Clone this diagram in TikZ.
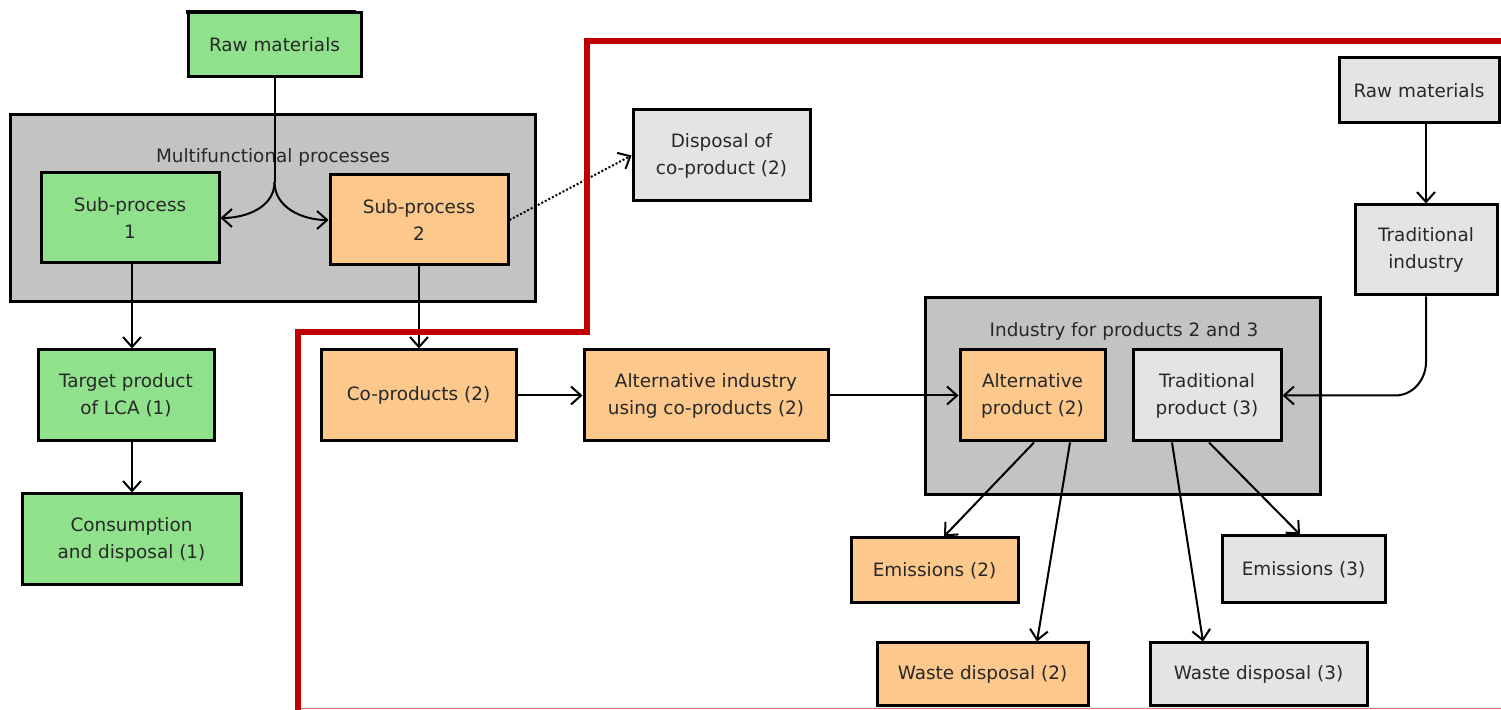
\documentclass[tikz,border=0pt]{standalone}
\usepackage{fontspec}
\setmainfont{DejaVu Sans}
\usetikzlibrary{arrows.meta,calc}
\definecolor{gfill}{RGB}{144,225,140}
\definecolor{ofill}{RGB}{252,200,140}
\definecolor{lfill}{RGB}{228,228,228}
\definecolor{grpfill}{RGB}{195,195,195}
\definecolor{redline}{RGB}{192,0,0}
\definecolor{txt}{RGB}{40,40,40}
\begin{document}
\begin{tikzpicture}[x=0.5pt,y=-0.5pt,
  box/.style={draw=black,line width=1.5pt,inner sep=0pt,align=center,
    font=\fontsize{9.2}{13.5}\selectfont,text=txt},
  grn/.style={box,fill=gfill},
  org/.style={box,fill=ofill},
  gry/.style={box,fill=lfill},
  grp/.style={draw=black,line width=1.5pt,fill=grpfill,inner sep=0pt},
  lbl/.style={font=\fontsize{9.2}{13.5}\selectfont,text=txt,inner sep=0pt},
  arr/.style={line width=1pt,-{Straight Barb[length=5pt,width=9pt,line width=1pt]}},
  ]
\useasboundingbox (0,0) rectangle (1501,710);
% groups
\node[grp,minimum width=262.5pt,minimum height=93.5pt] (multi) at (272.5,208.5) {};
\node[lbl] (multilbl) at (273,157) {Multifunctional processes};
\node[grp,minimum width=197.5pt,minimum height=98.5pt] (indgrp) at (1122.5,396.5) {};
\node[lbl] (indlbl) at (1124,331) {Industry for products 2 and 3};
% top bar
\fill[black] (186,10) rectangle (356,14);
% boxes left
\node[grn,minimum width=86.5pt,minimum height=32pt] (rawL) at (274.5,45) {Raw materials};
\node[grn,minimum width=89pt,minimum height=45pt] (sub1) at (130,218) {Sub-process\\1};
\node[org,minimum width=89pt,minimum height=45pt] (sub2) at (419,220) {Sub-process\\2};
\node[grn,minimum width=88pt,minimum height=45.5pt] (target) at (126,395.5) {Target product\\of LCA (1)};
\node[grn,minimum width=109.5pt,minimum height=45.5pt] (cons) at (131.5,539.5) {Consumption\\and disposal (1)};
% middle
\node[org,minimum width=97.5pt,minimum height=45.5pt] (coprod) at (418.5,395.5) {Co-products (2)};
\node[org,minimum width=122pt,minimum height=45.5pt] (altind) at (706,395.5) {Alternative industry\\using co-products (2)};
\node[gry,minimum width=88.5pt,minimum height=45.5pt] (disp) at (721.5,155.5) {Disposal of\\co-product (2)};
% right
\node[org,minimum width=72.5pt,minimum height=45.5pt] (altprod) at (1032.5,395.5) {Alternative\\product (2)};
\node[gry,minimum width=74pt,minimum height=45.5pt] (tradprod) at (1207,395.5) {Traditional\\product (3)};
\node[gry,minimum width=80pt,minimum height=32.5pt] (rawR) at (1419,90.5) {Raw materials};
\node[gry,minimum width=71pt,minimum height=45pt] (tradind) at (1426,250) {Traditional\\industry};
\node[org,minimum width=83.5pt,minimum height=32.5pt] (em2) at (934.5,570.5) {Emissions (2)};
\node[org,minimum width=105.5pt,minimum height=31.5pt] (wd2) at (982.5,674.5) {Waste disposal (2)};
\node[gry,minimum width=81.5pt,minimum height=33.5pt] (em3) at (1303.5,569.5) {Emissions (3)};
\node[gry,minimum width=108.5pt,minimum height=31.5pt] (wd3) at (1258.5,674.5) {Waste disposal (3)};
% connectors
\coordinate (split) at (274.5,182);
\draw[line width=1pt] (rawL.south) -- (split);
\draw[arr] (split) to[out=-90,in=0] (sub1.east);
\draw[arr] (split) to[out=-90,in=180] (sub2.west);
\draw[arr] (sub1.south -| 132,0) -- (target.north -| 132,0);
\draw[arr] (target.south -| 132,0) -- (cons.north -| 132,0);
\draw[arr] (sub2.south) -- (coprod.north -| sub2.south);
\draw[arr] (coprod.east) -- (altind.west);
\draw[arr] (altind.east) -- (altprod.west);
\draw[line width=1pt,densely dotted,-{Straight Barb[length=5pt,width=9pt,line width=1pt]}] (sub2.east) -- (disp.west);
\draw[arr] (rawR.south -| tradind.north) -- (tradind.north);
\coordinate (bend) at (1426,362);
\draw[arr] (tradind.south) -- (bend) to[out=-90,in=0] (1395,395.5) -- (tradprod.east);
\draw[arr] ($(altprod.south)+(1.5,0)$) -- ($(em2.north)+(9.5,0)$);
\draw[arr] ($(altprod.south)+(37.5,0)$) -- ($(wd2.north)+(54.5,0)$);
\draw[arr] ($(tradprod.south)+(-35,0)$) -- ($(wd3.north)+(-55.5,0)$);
\draw[arr] ($(tradprod.south)+(2,0)$) -- ($(em3.north)+(-3.5,0)$);
% red boundary
\draw[redline!55,line width=0.8pt] (298,708.5) -- (1501,708.5);
\draw[redline,line width=3pt] (298,710) -- (298,332) -- (587,332) -- (587,41.5) -- (1501,41.5);
\end{tikzpicture}
\end{document}
